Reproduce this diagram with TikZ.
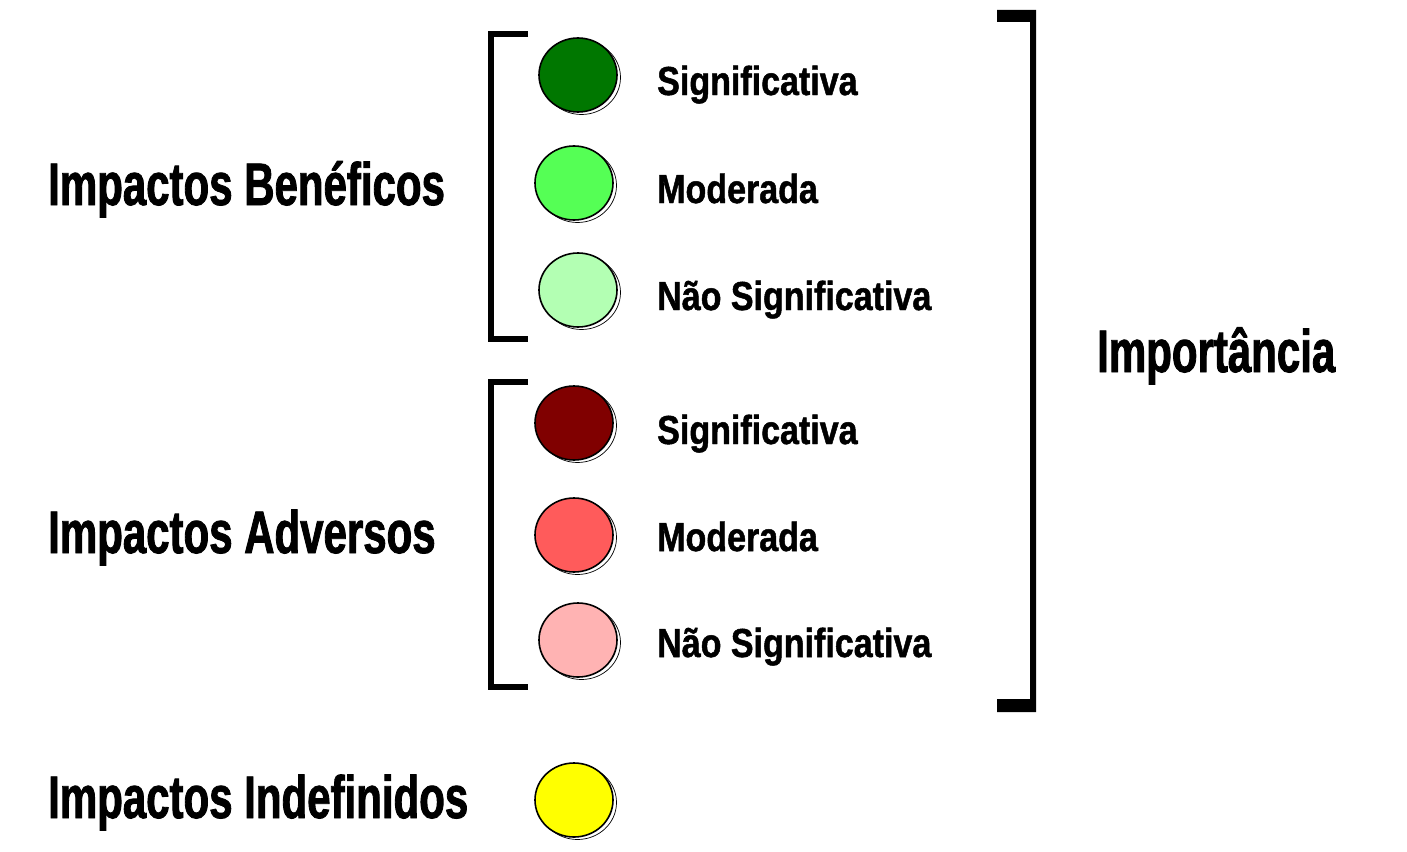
\documentclass[tikz,border=0pt]{standalone}
\usepackage{fontspec}
\usepackage{xcolor}
\usepackage{tikz}
\usetikzlibrary{shapes.geometric,shadows}

\setmainfont{Liberation Sans}
\newfontfamily\headfont{Liberation Sans}[FakeStretch=0.70, FakeBold=1.4]
\newfontfamily\levelfont{Liberation Sans}[FakeStretch=0.84, FakeBold=1.2]

\definecolor{greenSig}{RGB}{0,119,0}
\definecolor{greenMod}{RGB}{85,255,85}
\definecolor{greenNao}{RGB}{179,255,179}
\definecolor{redSig}{RGB}{128,0,0}
\definecolor{redMod}{RGB}{255,91,91}
\definecolor{redNao}{RGB}{255,179,179}
\definecolor{yellowInd}{RGB}{255,255,0}

\begin{document}
\begin{tikzpicture}[
    x=1pt, y=-1pt,
    dot/.style={draw=black, ellipse, minimum width=78pt, minimum height=74pt,
      inner sep=0pt, line width=1.6pt,
      general shadow={shadow xshift=3.5pt, shadow yshift=-2.5pt,
        draw=black, fill=white, line width=0.7pt}},
    group/.style={font=\headfont\bfseries\fontsize{60}{72}\selectfont,
      anchor=base west, inner sep=0pt},
    level/.style={font=\levelfont\bfseries\fontsize{40.5}{48}\selectfont,
      anchor=base west, inner sep=0pt},
    bracket/.style={line width=6pt, miter limit=10}
  ]
    \useasboundingbox (0,0) rectangle (1407,851);

    % groups
    \node[group] (benef) at (48,205) {Impactos Benéficos};
    \node[group] (adver) at (48,553) {Impactos Adversos};
    \node[group] (indef) at (48,818) {Impactos Indefinidos};
    \node[group] (import) at (1097,372) {Importância};

    % brackets
    \draw[bracket] (528,34) -- (491,34) -- (491,339) -- (528,339);
    \draw[bracket] (528,382) -- (491,382) -- (491,687) -- (528,687);
    \fill (997,10) -- (1036,10) -- (1036,712) -- (997,712) -- (997,699)
      -- (1030,699) -- (1030,22) -- (997,22) -- cycle;

    % circles
    \node[dot, fill=greenSig] (bsig) at (578,75) {};
    \node[dot, fill=greenMod] (bmod) at (574,183) {};
    \node[dot, fill=greenNao] (bnao) at (578,290) {};
    \node[dot, fill=redSig] (asig) at (574,423) {};
    \node[dot, fill=redMod] (amod) at (574,535) {};
    \node[dot, fill=redNao] (anao) at (578,640) {};
    \node[dot, fill=yellowInd] (ind) at (574,800) {};

    % levels
    \node[level] (lbsig) at (657,95) {Significativa};
    \node[level] (lbmod) at (657,203) {Moderada};
    \node[level] (lbnao) at (657,310) {Não Significativa};
    \node[level] (lasig) at (657,444) {Significativa};
    \node[level] (lamod) at (657,551) {Moderada};
    \node[level] (lanao) at (657,657) {Não Significativa};
\end{tikzpicture}
\end{document}
